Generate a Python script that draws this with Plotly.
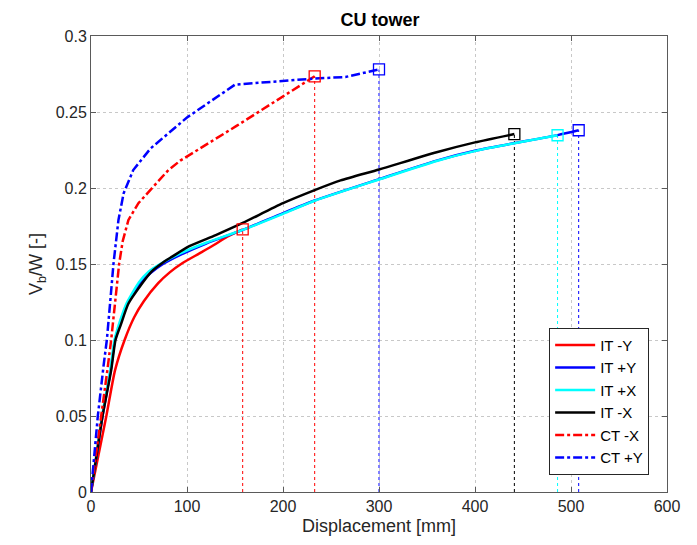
import plotly.graph_objects as go

# ---- data (Displacement [mm], Vb/W [-]) ----
it_my_x = [0, 8, 16, 25, 35, 45, 55, 70, 82, 95, 113, 128, 142, 158]
it_my_y = [0, 0.025, 0.05, 0.08, 0.1, 0.115, 0.1255, 0.1374, 0.1445, 0.1505, 0.157, 0.1625, 0.168, 0.1728]

it_py_x = [0, 6, 12, 20.5, 25, 31, 38, 51, 62, 75, 93, 120, 158, 200, 233, 300, 360, 402, 486, 508]
it_py_y = [0, 0.025, 0.05, 0.08, 0.1, 0.112, 0.124, 0.137, 0.144, 0.15, 0.156, 0.1635, 0.1724, 0.1835, 0.1918, 0.2058, 0.218, 0.2248, 0.2348, 0.238]

it_px_x = [0, 6, 11.5, 20, 24.5, 30, 37, 50, 60, 72, 93, 120, 158, 200, 233, 300, 360, 402, 486]
it_px_y = [0, 0.026, 0.05, 0.08, 0.1, 0.112, 0.124, 0.138, 0.145, 0.15, 0.157, 0.164, 0.1724, 0.183, 0.1916, 0.2056, 0.2178, 0.2246, 0.2347]

it_mx_x = [0, 6, 12, 21, 25.5, 31, 39, 53, 63, 75, 85, 100, 130, 158, 200, 233, 260, 300, 360, 400, 441]
it_mx_y = [0, 0.025, 0.05, 0.08, 0.1, 0.11, 0.124, 0.137, 0.145, 0.151, 0.155, 0.161, 0.169, 0.177, 0.19, 0.1986, 0.205, 0.2122, 0.2235, 0.23, 0.2355]

ct_mx_x = [0, 5.5, 10.6, 17, 21, 25, 29.3, 33, 39, 49.4, 65, 80.6, 93, 152, 233]
ct_mx_y = [0, 0.025, 0.05, 0.08, 0.1, 0.125, 0.15, 0.165, 0.179, 0.19, 0.201, 0.2118, 0.218, 0.241, 0.2735]

ct_py_x = [0, 3.5, 7.1, 13, 16.5, 20, 23.4, 28.6, 34, 44, 62, 100, 150, 232, 265, 300]
ct_py_y = [0, 0.025, 0.05, 0.0826, 0.1, 0.125, 0.15, 0.179, 0.1965, 0.2118, 0.226, 0.2464, 0.268, 0.272, 0.273, 0.278]

names = ["IT -Y", "IT +Y", "IT +X", "IT -X", "CT -X", "CT +Y"]
colors = ["#FF0000", "#0000FF", "#00FFFF", "#000000", "#FF0000", "#0000FF"]
dashes = ["solid", "solid", "solid", "solid", "dashdot", "dashdot"]
shapes = ["spline", "spline", "spline", "spline", "linear", "linear"]
series = [(it_my_x, it_my_y), (it_py_x, it_py_y), (it_px_x, it_px_y),
          (it_mx_x, it_mx_y), (ct_mx_x, ct_mx_y), (ct_py_x, ct_py_y)]

x_ticks = [0, 100, 200, 300, 400, 500, 600]
y_ticks = [0, 0.05, 0.1, 0.15, 0.2, 0.25, 0.3]
y_tick_text = ["0", "0.05", "0.1", "0.15", "0.2", "0.25", "0.3"]

fig = go.Figure()

# drop lines (behind curves, not in legend)
for (xs, ys), c in zip(series, colors):
    fig.add_trace(go.Scatter(x=[xs[-1], xs[-1]], y=[0, ys[-1]], mode="lines",
                             line=dict(color=c, width=1, dash="dot"),
                             showlegend=False, hoverinfo="skip"))

for (xs, ys), n, c, d, s in zip(series, names, colors, dashes, shapes):
    line = dict(color=c, width=2.5, dash=d, shape=s)
    if s == "spline":
        line["smoothing"] = 0.6
    fig.add_trace(go.Scatter(x=xs, y=ys, mode="lines", name=n, line=line))

# end markers
for (xs, ys), c in zip(series, colors):
    fig.add_trace(go.Scatter(x=[xs[-1]], y=[ys[-1]], mode="markers",
                             marker=dict(symbol="square-open", size=11,
                                         color=c, line=dict(width=1.3, color=c)),
                             showlegend=False, hoverinfo="skip"))

font_family = "Liberation Sans, Arial, sans-serif"
axis_common = dict(
    showgrid=True, gridcolor="#c8c8c8", gridwidth=1, griddash="dot",
    showline=True, linecolor="#5a5a5a", linewidth=1, mirror="ticks",
    ticks="inside", ticklen=5, tickcolor="#5a5a5a",
    tickfont=dict(size=16, color="#262626", family=font_family),
    zeroline=False,
)

fig.update_layout(
    width=689, height=537,
    margin=dict(l=82.5, r=30, t=27.5, b=52.5),
    paper_bgcolor="white", plot_bgcolor="white",
    font=dict(family=font_family, color="#262626"),
    title=dict(text="<b>CU tower</b>", x=0.54, xanchor="center",
               y=0.978, yanchor="middle", yref="container",
               font=dict(size=18, color="#000000", family=font_family)),
    xaxis=dict(range=[0, 600], tickvals=x_ticks,
               title=dict(text="Displacement [mm]", standoff=5,
                          font=dict(size=18, color="#262626")),
               **axis_common),
    yaxis=dict(range=[0, 0.3], tickvals=y_ticks, ticktext=y_tick_text,
               title=dict(text="V<sub>b</sub>/W [-]", standoff=8,
                          font=dict(size=18, color="#262626")),
               **axis_common),
    legend=dict(x=0.969, y=0.038, xanchor="right", yanchor="bottom",
                bgcolor="white", bordercolor="#262626", borderwidth=1,
                font=dict(size=15, color="#000000", family=font_family),
                tracegroupgap=0, itemwidth=40),
    showlegend=True,
)

fig.write_html("out.html")
